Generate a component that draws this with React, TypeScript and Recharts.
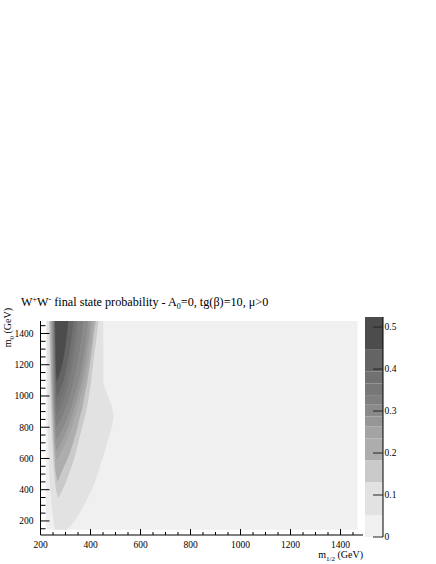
import React from 'react';
import { ComposedChart, Area, XAxis, YAxis, BarChart, Bar } from 'recharts';

type Band = [number, number] | null;

const serif = "'Liberation Serif', 'DejaVu Serif', serif";

// m0 rows (GeV) at which the contour edges were read
const m0Rows = [143, 200, 280, 345, 400, 450, 520, 590, 650, 720, 800, 870, 930, 990, 1090, 1200, 1300, 1400, 1480];

const blank = (n: number): Band[] => Array(n).fill(null);

// [left, right] m1/2 edge of each filled probability level, one entry per m0 row
const level0: Band[] = [
  [222, 1468], [222, 1468], [222, 1468], [222, 1468], [222, 1468], [222, 1468], [222, 1468], [222, 1468], [222, 1468], [222, 1468],
  [222, 1468], [222, 1468], [222, 1468], [222, 1468], [222, 1468], [222, 1468], [222, 1468], [222, 1468], [222, 1468],
];
const level1: Band[] = [
  [258, 305], [252, 336], [246, 367], [242, 388], [239, 405], [237, 418], [235, 432], [233, 446], [232, 458], [231, 470],
  [230, 485], [229, 491], [229, 486], [228, 472], [228, 452], [227, 451], [227, 451], [226, 451], [226, 451],
];
const level2: Band[] = [
  ...blank(3),
  [271, 271], [262, 288], [258, 302], [254, 318], [251, 333], [249, 343], [246, 354], [244, 367], [242, 378], [241, 386],
  [240, 393], [238, 402], [237, 410], [236, 418], [235, 426], [234, 431],
];
const level3: Band[] = [
  ...blank(5),
  [268, 268], [260, 286], [257, 306], [255, 320], [252, 334], [250, 348], [248, 358], [246, 368], [245, 375], [243, 387],
  [242, 397], [240, 406], [239, 413], [238, 421],
];
const level4: Band[] = [
  ...blank(7),
  [265, 265], [258, 285], [255, 306], [253, 325], [251, 338], [250, 350], [248, 360], [247, 376], [245, 388], [244, 398],
  [243, 405], [242, 411],
];
const level5: Band[] = [
  ...blank(8),
  [265, 265], [258, 288], [256, 310], [254, 325], [252, 337], [251, 348], [249, 364], [248, 378], [247, 387], [246, 396], [245, 401],
];
const level6: Band[] = [
  ...blank(9),
  [265, 265], [259, 291], [257, 310], [255, 323], [254, 334], [252, 352], [251, 366], [250, 377], [249, 385], [248, 391],
];
const level7: Band[] = [
  ...blank(10),
  [265, 265], [259, 287], [258, 302], [256, 315], [255, 331], [253, 346], [252, 357], [251, 366], [250, 371],
];
const level8: Band[] = [
  ...blank(11),
  [265, 265], [260, 282], [259, 296], [257, 313], [256, 328], [255, 338], [254, 346], [253, 351],
];
const level9: Band[] = [
  ...blank(12),
  [265, 265], [261, 282], [260, 301], [258, 317], [257, 327], [256, 336], [255, 341],
];
const level10: Band[] = [
  ...blank(13),
  [265, 265], [261, 290], [259, 306], [258, 317], [257, 326], [256, 331],
];
const level11: Band[] = [
  ...blank(14),
  [265, 265], [261, 287], [260, 298], [259, 306], [258, 311],
];

const levels = [level0, level1, level2, level3, level4, level5, level6, level7, level8, level9, level10, level11];

// colour scale: level boundaries and fills
const colorLevels = [0, 0.052, 0.131, 0.183, 0.235, 0.263, 0.287, 0.315, 0.338, 0.366, 0.394, 0.446, 0.524];
const levelColors = [
  '#f0f0f0', '#e2e2e2', '#cacaca', '#adadad', '#a3a3a3', '#969696',
  '#8a8a8a', '#7f7f7f', '#777777', '#717171', '#646464', '#4c4c4c',
];

const xTicks = [200, 250, 300, 350, 400, 450, 500, 550, 600, 650, 700, 750, 800, 850, 900, 950, 1000, 1050, 1100, 1150, 1200, 1250, 1300, 1350, 1400, 1450];
const xLabels = [200, 400, 600, 800, 1000, 1200, 1400];
const yTicks = [150, 200, 250, 300, 350, 400, 450, 500, 550, 600, 650, 700, 750, 800, 850, 900, 950, 1000, 1050, 1100, 1150, 1200, 1250, 1300, 1350, 1400, 1450];
const yLabels = [200, 400, 600, 800, 1000, 1200, 1400];
const zTicks = [0, 0.1, 0.2, 0.3, 0.4, 0.5];

const contourRows = m0Rows.map((m0, i) => {
  const row: any = { m0 };
  levels.forEach((lv, k) => {
    row['l' + k] = lv[i];
  });
  return row;
});

const barRow: any = { name: 'p' };
colorLevels.slice(1).forEach((top, i) => {
  barRow['b' + i] = top - colorLevels[i];
});

const XTick = (props: any) => {
  const { x, y, payload } = props;
  const major = xLabels.includes(payload.value);
  return (
    <g>
      <line x1={x} y1={y} x2={x} y2={y - (major ? 6 : 3)} stroke="#000" />
      {major && (
        <text x={x} y={y + 12.5} textAnchor="middle" fontSize={9.5} fontFamily={serif} fill="#000">
          {payload.value}
        </text>
      )}
    </g>
  );
};

const YTick = (props: any) => {
  const { x, y, payload } = props;
  const major = yLabels.includes(payload.value);
  return (
    <g>
      <line x1={x} y1={y} x2={x + (major ? 9 : 5)} y2={y} stroke="#000" />
      {major && (
        <text x={x - 7} y={y + 3.3} textAnchor="end" fontSize={9.5} fontFamily={serif} fill="#000">
          {payload.value}
        </text>
      )}
    </g>
  );
};

const ZTick = (props: any) => {
  const { x, y, payload } = props;
  return (
    <g>
      <line x1={x} y1={y} x2={x - 10} y2={y} stroke="#222" />
      <text x={x + 1.5} y={y + 3.3} textAnchor="start" fontSize={9.5} fontFamily={serif} fill="#000">
        {payload.value}
      </text>
    </g>
  );
};

const XLabel = (props: any) => {
  const { viewBox } = props;
  return (
    <text x={viewBox.x + viewBox.width} y={viewBox.y + 23} textAnchor="end" fontSize={10} fontFamily={serif} fill="#000">
      m<tspan dy={2.5} fontSize={7}>1/2</tspan>
      <tspan dy={-2.5}>{'  (GeV)'}</tspan>
    </text>
  );
};

const YLabel = (props: any) => {
  const { viewBox } = props;
  const x = 11;
  const y = viewBox.y - 13;
  return (
    <text x={x} y={y} transform={`rotate(-90 ${x} ${y})`} textAnchor="end" fontSize={10} fontFamily={serif} fill="#000">
      m<tspan dy={2.5} fontSize={7}>0</tspan>
      <tspan dy={-2.5}>{' (GeV)'}</tspan>
    </text>
  );
};

export default function App() {
  return (
    <div style={{ position: 'absolute', left: 0, top: 0, width: 436, height: 564, background: '#fff' }}>
      <div style={{ position: 'absolute', left: 0, top: 0 }}>
        <ComposedChart
          layout="vertical"
          width={436}
          height={564}
          data={contourRows}
          margin={{ top: 321, right: 73, bottom: 0, left: 0.5 }}
        >
          <XAxis
            type="number"
            domain={[200, 1490]}
            allowDataOverflow
            ticks={xTicks}
            interval={0}
            tick={<XTick />}
            tickLine={false}
            tickSize={0}
            tickMargin={0}
            height={29}
            axisLine={{ stroke: '#000' }}
            label={XLabel}
          />
          <YAxis
            type="number"
            dataKey="m0"
            domain={[110, 1480]}
            allowDataOverflow
            reversed
            ticks={yTicks}
            interval={0}
            tick={<YTick />}
            tickLine={false}
            tickSize={0}
            tickMargin={0}
            width={40}
            axisLine={{ stroke: '#000' }}
            label={YLabel}
          />
          {levels.map((_, k) => (
            <Area
              key={k}
              dataKey={'l' + k}
              type="monotone"
              fill={levelColors[k]}
              fillOpacity={1}
              stroke="none"
              dot={false}
              activeDot={false}
              isAnimationActive={false}
            />
          ))}
        </ComposedChart>
      </div>

      <div style={{ position: 'absolute', left: 365, top: 0 }}>
        <BarChart
          width={71}
          height={564}
          data={[barRow]}
          margin={{ top: 317, right: 0, bottom: 27, left: 0 }}
          barCategoryGap={0}
          barGap={0}
        >
          <XAxis dataKey="name" hide />
          <YAxis
            orientation="right"
            type="number"
            domain={[0, 0.524]}
            allowDataOverflow
            ticks={zTicks}
            interval={0}
            tick={<ZTick />}
            tickLine={false}
            tickSize={0}
            tickMargin={0}
            width={53}
            axisLine={{ stroke: '#000' }}
          />
          {levelColors.map((c, i) => (
            <Bar key={i} dataKey={'b' + i} stackId="z" fill={c} isAnimationActive={false} />
          ))}
        </BarChart>
      </div>

      <svg width={436} height={40} style={{ position: 'absolute', left: 0, top: 280 }}>
        <text x={21} y={26} fontSize={12.2} fontFamily={serif} fill="#000">
          W<tspan dy={-4} fontSize={8}>+</tspan>
          <tspan dy={4}>W</tspan>
          <tspan dy={-4} fontSize={8}>-</tspan>
          <tspan dy={4}> final state probability - A</tspan>
          <tspan dy={3} fontSize={8}>0</tspan>
          <tspan dy={-3}>=0, tg(β)=10, μ&gt;0</tspan>
        </text>
      </svg>
    </div>
  );
}
